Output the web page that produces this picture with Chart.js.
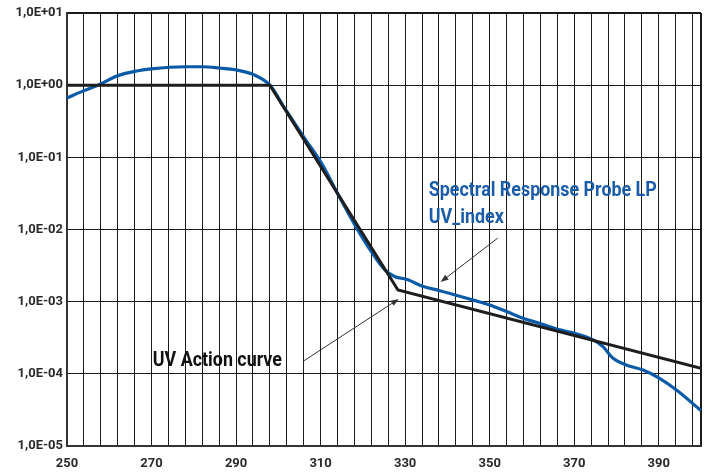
<!DOCTYPE html>
<html><head><meta charset="utf-8">
<script src="https://cdn.jsdelivr.net/npm/chart.js@4.4.1/dist/chart.umd.min.js"></script>
<style>html,body{margin:0;padding:0;background:#fff;}</style>
</head><body>
<canvas id="c" width="711" height="475"></canvas>
<script>
// ---- data ----
const probeWavelengths = [250, 254, 257.3, 262, 266.5, 270, 274.4, 278, 282.2, 286, 290.2, 294, 298, 301.5, 306.3, 310.2, 314.2, 318.1, 322.0, 325.2, 327.6, 330.3, 334.3, 338.2, 346.1, 350.0, 354.0, 357.9, 361.8, 366.6, 369.5, 374.5, 376.8, 379.2, 382.3, 386.3, 390.2, 394.2, 400];
const probeValues = [0.664, 0.84, 1.0, 1.35, 1.57, 1.68, 1.77, 1.80, 1.80, 1.73, 1.62, 1.41, 1.0, 0.48, 0.18, 0.083, 0.030, 0.0116, 0.00493, 0.00275, 0.00222, 0.00204, 0.00162, 0.00142, 0.00105, 0.00090, 0.00073, 0.00059, 0.00050, 0.000406, 0.000372, 0.000295, 0.000238, 0.000164, 0.000133, 0.000113, 0.0000867, 0.0000597, 0.0000309];

const actionWavelengths = [250, 298, 328.3, 400];
const actionValues = [1.0, 1.0, 0.00145, 0.000119];

const xTickLabels = ['250', '270', '290', '310', '330', '350', '370', '390'];
const yTickValues = [1e-5, 1e-4, 1e-3, 1e-2, 1e-1, 1, 10];
const yTickLabels = ['1,0E-05', '1,0E-04', '1,0E-03', '1,0E-02', '1,0E-01', '1,0E+00', '1,0E+01'];
const xMin = 250, xMax = 400, xGridStep = 4;

const notes = [
  { text: 'Spectral Response Probe LP', x: 335.6, y: 0.0291, color: '#1a5ca8' },
  { text: 'UV_index', x: 335.6, y: 0.0123, color: '#1a5ca8' },
  { text: 'UV Action curve', x: 270.3, y: 1.285e-4, color: '#111111' }
];
const arrows = [
  { from: [351.9, 7.6e-3], to: [338.4, 1.87e-3] },
  { from: [306.0, 1.51e-4], to: [328.5, 1.09e-3] }
];

// ---- build ----
const xGridValues = [];
for (let v = xMin; v <= xMax; v += xGridStep) xGridValues.push(v);
if (xGridValues[xGridValues.length - 1] !== xMax) xGridValues.push(xMax);

const toPts = (xs, ys) => xs.map((x, i) => ({ x: x, y: ys[i] }));

const annotationPlugin = {
  id: 'notes',
  afterDatasetsDraw(chart) {
    const ctx = chart.ctx, xs = chart.scales.x, ys = chart.scales.y;
    ctx.save();
    ctx.font = 'bold 20px Roboto, "Liberation Sans", sans-serif';
    ctx.textBaseline = 'alphabetic';
    ctx.textAlign = 'left';
    const squeeze = 228 / ctx.measureText(notes[0].text).width;
    notes.forEach(n => {
      ctx.save();
      ctx.fillStyle = n.color;
      ctx.translate(xs.getPixelForValue(n.x), ys.getPixelForValue(n.y));
      ctx.scale(squeeze, 1);
      ctx.fillText(n.text, 0, 0);
      ctx.restore();
    });
    ctx.strokeStyle = '#333';
    ctx.fillStyle = '#333';
    ctx.lineWidth = 1;
    arrows.forEach(a => {
      const x1 = xs.getPixelForValue(a.from[0]), y1 = ys.getPixelForValue(a.from[1]);
      const x2 = xs.getPixelForValue(a.to[0]), y2 = ys.getPixelForValue(a.to[1]);
      const ang = Math.atan2(y2 - y1, x2 - x1);
      const L = 8, W = 3;
      ctx.beginPath();
      ctx.moveTo(x1, y1);
      ctx.lineTo(x2 - L * 0.8 * Math.cos(ang), y2 - L * 0.8 * Math.sin(ang));
      ctx.stroke();
      ctx.beginPath();
      ctx.moveTo(x2, y2);
      ctx.lineTo(x2 - L * Math.cos(ang) + W * Math.sin(ang), y2 - L * Math.sin(ang) - W * Math.cos(ang));
      ctx.lineTo(x2 - L * Math.cos(ang) - W * Math.sin(ang), y2 - L * Math.sin(ang) + W * Math.cos(ang));
      ctx.closePath();
      ctx.fill();
    });
    ctx.restore();
  }
};

Chart.defaults.font.family = 'Roboto, "Liberation Sans", sans-serif';

new Chart(document.getElementById('c'), {
  type: 'line',
  data: {
    datasets: [
      {
        label: 'UV Action curve',
        data: toPts(actionWavelengths, actionValues),
        borderColor: '#1e1e1e',
        borderWidth: 3,
        pointRadius: 0,
        tension: 0,
        fill: false
      },
      {
        label: 'Spectral Response Probe LP UV_index',
        data: toPts(probeWavelengths, probeValues),
        borderColor: '#0b5aa8',
        borderWidth: 3.2,
        pointRadius: 0,
        cubicInterpolationMode: 'monotone',
        fill: false
      }
    ]
  },
  options: {
    responsive: false,
    animation: false,
    layout: { padding: { top: 13, right: 10, left: 0, bottom: 0 } },
    plugins: { legend: { display: false }, tooltip: { enabled: false } },
    scales: {
      x: {
        type: 'linear',
        min: xMin,
        max: xMax,
        afterBuildTicks: s => { s.ticks = xGridValues.map(v => ({ value: v })); },
        afterFit: s => { s.height = 29; },
        ticks: {
          autoSkip: false,
          maxRotation: 0,
          padding: 10,
          color: '#2a2a2a',
          font: { size: 13, weight: 'bold' },
          callback: v => (xTickLabels.includes(String(v)) ? String(v) : '')
        },
        grid: {
          drawTicks: false,
          color: '#1a1a1a',
          lineWidth: c => (c.tick && c.tick.value === xMax ? 2 : 1)
        },
        border: { display: true, color: '#333', width: 2 }
      },
      y: {
        type: 'logarithmic',
        min: yTickValues[0],
        max: yTickValues[yTickValues.length - 1],
        afterBuildTicks: s => { s.ticks = yTickValues.map(v => ({ value: v })); },
        afterFit: s => { s.width = 67; },
        ticks: {
          autoSkip: false,
          padding: 4,
          color: '#2a2a2a',
          font: { size: 13, weight: 'bold' },
          callback: v => {
            const i = yTickValues.findIndex(t => Math.abs(Math.log10(t) - Math.log10(v)) < 1e-6);
            return i >= 0 ? yTickLabels[i] : '';
          }
        },
        grid: {
          drawTicks: false,
          color: '#1a1a1a',
          lineWidth: c => (c.tick && c.tick.value === 10 ? 2 : 1)
        },
        border: { display: true, color: '#333', width: 2 }
      }
    }
  },
  plugins: [annotationPlugin]
});
</script>
</body></html>
